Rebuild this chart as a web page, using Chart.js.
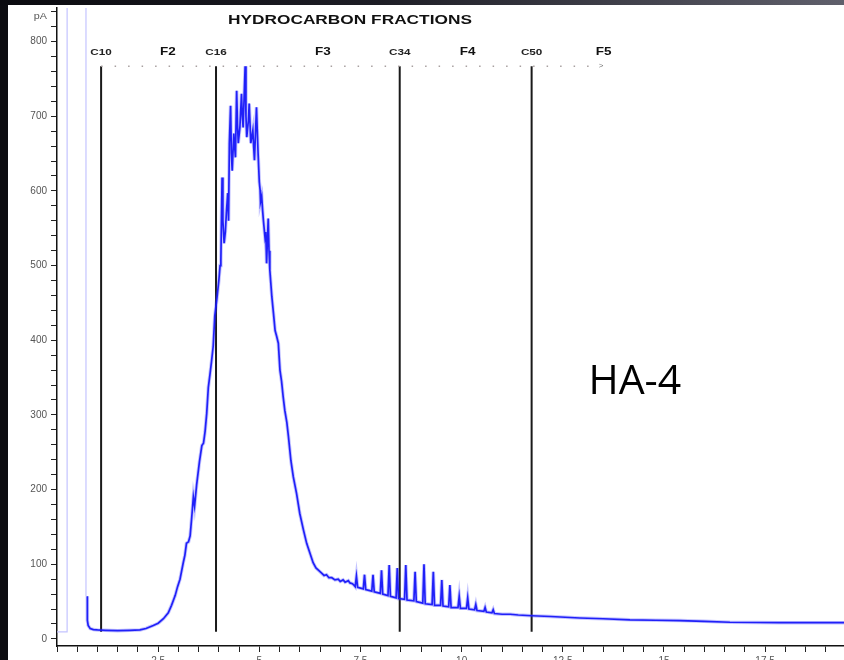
<!DOCTYPE html>
<html>
<head>
<meta charset="utf-8">
<script src="https://cdn.jsdelivr.net/npm/chart.js@4"></script>
<style>
html,body{margin:0;padding:0;width:844px;height:660px;overflow:hidden;background:#0c0c11}
#top{position:absolute;left:0;top:0;width:844px;height:5px;background:linear-gradient(90deg,#0b0b10 0%,#1d1d25 45%,#60606c 100%)}
#wrap{position:absolute;left:8px;top:5px;width:836px;height:655px;background:#fff}
</style>
</head>
<body>
<div id="top"></div>
<div id="wrap"><canvas id="c" width="836" height="655"></canvas></div>
<script>
// chromatogram trace (min, pA)
const traceX = [0.75,0.75,0.77,0.82,0.9,1.0,1.2,1.5,1.8,2.05,2.2,2.38,2.5,2.63,2.75,2.83,2.92,2.98,3.04,3.12,3.16,3.20,3.25,3.29,3.33,3.37,3.40,3.45,3.52,3.58,3.62,3.66,3.70,3.74,3.78,3.82,3.86,3.90,3.95,4.00,4.03,4.05,4.08,4.10,4.13,4.16,4.19,4.22,4.24,4.26,4.29,4.31,4.33,4.37,4.39,4.41,4.44,4.46,4.48,4.52,4.56,4.58,4.60,4.65,4.67,4.69,4.73,4.75,4.79,4.84,4.86,4.88,4.93,4.95,4.97,5.00,5.02,5.03,5.06,5.08,5.10,5.14,5.16,5.18,5.22,5.24,5.26,5.31,5.35,5.39,5.43,5.47,5.51,5.55,5.59,5.63,5.68,5.72,5.78,5.84,5.92,6.00,6.09,6.17,6.25,6.33,6.40,6.46,6.54,6.60,6.66,6.72,6.79,6.87,6.95,7.00,7.07,7.12,7.20,7.24,7.30,7.34,
  7.37,7.40,7.43,7.57,7.60,7.63,7.78,7.81,7.84,7.99,8.02,8.05,8.18,8.21,8.24,8.38,8.41,8.44,8.59,8.62,8.65,8.82,8.85,8.88,9.04,9.07,9.10,9.27,9.30,9.33,9.48,9.51,9.54,9.68,9.71,9.74,9.91,9.94,9.97,10.12,10.15,10.18,10.32,10.35,10.38,10.55,10.58,10.61,10.75,10.78,10.81,
  11.0,11.2,11.4,11.73,12.2,12.92,13.5,14.16,14.8,15.39,16.0,16.63,17.3,17.86,19.45];
const traceY = [57,25,18,14,12.5,12,11.5,11,11.5,12,14,18,21,27,35,45,58,70,80,102,112,128,130,138,163,190,178,206,237,259,262,278,302,337,354,372,392,433,455,480,500,507,618,560,530,545,574,597,560,664,714,650,627,677,660,645,734,690,664,685,730,700,685,767,700,672,694,717,664,681,660,641,712,680,650,612,601,585,592,575,561,538,545,503,563,520,494,458,436,413,405,396,360,345,324,306,290,271,239,217,195,168,146,128,115,102,95,92,88,85,86,82,82,79,80,77,79,76,78,75,74,72,
  70,84,69,67,86,66,64,86,63,61,92,60,58,99,57,55,95,54,53,99,52,51,90,50,48,100,47,46,90,45,45,79,44,43,72,42,42,57,41,41,55,40,39,46,38,37,42,36,35,39,34,
  33,33,32,31,30,28,27,25.5,25,24.5,23.5,22.3,22,21.8,21.8];
// solvent peak going off scale
const solventX = [0,0.25,0.25,0.716,0.716];
const solventY = [9.5,9.5,1000,1000,57];

// fraction boundaries and labels
const markerNames = ['C10','C16','C34','C50'];
const markerX = [1.09,3.93,8.47,11.73];
const fractionNames = ['F2','F3','F4','F5'];
const fractionX = [2.74,6.57,10.15,13.51];
const markerTop = 767, markerBottom = 9.5, labelY = 785;
const dotsX = [1.09,13.4];
const title = 'HYDROCARBON FRACTIONS';
const titleX = 7.24, titleY = 829;
const sampleName = 'HA-4';
const sampleX = 14.28, sampleY = 344;

const yTicks = []; for(let v=0; v<=840; v+=20) yTicks.push(v);
const xTicks = []; for(let i=0; i<=38; i++) xTicks.push(i/2);

function pts(xs,ys){ return xs.map((x,i)=>({x, y:ys[i]})); }

function txt(ctx,s,x,y,font,sx,color,align){
  ctx.save(); ctx.font=font; ctx.fillStyle=color; ctx.textBaseline='middle'; ctx.textAlign='left';
  const w=ctx.measureText(s).width*sx;
  const x0 = align==='center' ? x-w/2 : align==='right' ? x-w : x;
  ctx.translate(x0,y); ctx.scale(sx,1); ctx.fillText(s,0,0); ctx.restore();
}

const labels = {
  id:'labels',
  afterDraw(chart){
    const ctx=chart.ctx, xs=chart.scales.x, ys=chart.scales.y;
    const F='"Liberation Sans", Arial, sans-serif';
    txt(ctx,title,xs.getPixelForValue(titleX),ys.getPixelForValue(titleY),'bold 13px '+F,1.33,'#111','center');
    markerNames.forEach((n,i)=>txt(ctx,n,xs.getPixelForValue(markerX[i]),ys.getPixelForValue(labelY),'bold 9px '+F,1.3,'#222','center'));
    fractionNames.forEach((n,i)=>txt(ctx,n,xs.getPixelForValue(fractionX[i]),ys.getPixelForValue(labelY)-1,'bold 10px '+F,1.35,'#111','center'));
    txt(ctx,'>',xs.getPixelForValue(dotsX[1])+2,ys.getPixelForValue(markerTop),'8px '+F,1,'#777','center');
    txt(ctx,'pA',chart.chartArea.left-10,ys.getPixelForValue(833),'9px '+F,1.2,'#555','right');
    txt(ctx,sampleName,xs.getPixelForValue(sampleX),ys.getPixelForValue(sampleY),'41px "Open Sans", sans-serif',1,'#000','center');
  }
};

const datasets = [
  {data:pts(solventX,solventY), borderColor:'#c4c4ff', borderWidth:1.2},
  {data:pts(traceX,traceY), borderColor:'rgba(60,60,255,0.3)', borderWidth:3.5},
  {data:pts(traceX,traceY), borderColor:'rgba(8,8,245,0.95)', borderWidth:1.7},
  {data:pts(dotsX,[markerTop,markerTop]), borderColor:'#a8a0a0', borderWidth:1.5, borderDash:[1.5,12]}
];
markerX.forEach(x=>datasets.push({data:[{x,y:markerBottom},{x,y:markerTop}], borderColor:'#1a1a1a', borderWidth:2}));
datasets.forEach(d=>{ d.pointRadius=0; d.tension=0; d.fill=false; });

new Chart(document.getElementById('c'), {
  type:'line',
  data:{datasets},
  options:{
    responsive:false, animation:false,
    layout:{padding:{top:3,left:0,right:0,bottom:0}},
    plugins:{legend:{display:false}, tooltip:{enabled:false}},
    scales:{
      x:{type:'linear', min:0, max:19.45,
        afterBuildTicks:s=>{ s.ticks=xTicks.map(v=>({value:v})); },
        afterFit:s=>{ s.height=14; s.paddingLeft=0; s.paddingRight=0; },
        ticks:{autoSkip:false, maxRotation:0, padding:3, color:'#555', font:{size:10, family:'"Liberation Sans", Arial'},
          callback:v=>(v>0 && Math.abs(v/2.5-Math.round(v/2.5))<1e-9) ? String(v) : ''},
        grid:{drawOnChartArea:false, drawTicks:true, tickLength:6, color:'#222', lineWidth:1},
        border:{display:true, color:'#111', width:1.5}
      },
      y:{type:'linear', min:-9.5, max:845,
        afterBuildTicks:s=>{ s.ticks=yTicks.map(v=>({value:v})); },
        afterFit:s=>{ s.width=49; s.paddingTop=0; s.paddingBottom=0; },
        ticks:{autoSkip:false, padding:4, color:'#555', font:{size:10, family:'"Liberation Sans", Arial'},
          callback:v=>v%100===0 ? String(v) : ''},
        grid:{drawOnChartArea:false, drawTicks:true, tickLength:6, color:'#222', lineWidth:1},
        border:{display:true, color:'#111', width:1.5}
      }
    }
  },
  plugins:[labels]
});
</script>
</body>
</html>
